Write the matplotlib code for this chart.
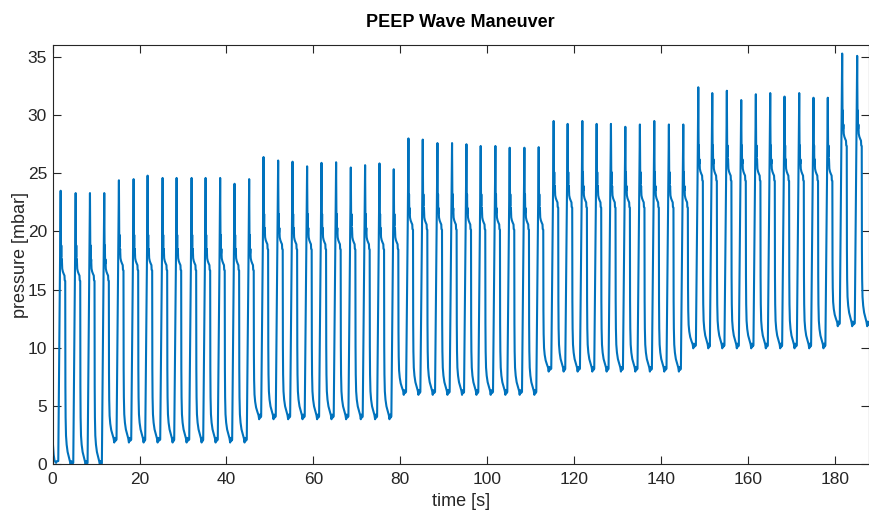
import numpy as np
import matplotlib.pyplot as plt

plt.rcParams['font.family'] = ['Liberation Sans', 'DejaVu Sans']

# peak time of every breath [s]
peak_time = [1.86, 5.31, 8.60, 11.89,
             15.26, 18.64, 21.86, 25.31, 28.53, 31.98, 35.20, 38.55, 41.86, 45.22,
             48.53, 51.89, 55.20, 58.55, 61.86, 65.22, 68.60, 71.89, 75.20, 78.48,
             81.86, 85.15, 88.53, 91.89, 95.20, 98.48, 101.86, 105.15, 108.53, 111.82,
             115.26, 118.48, 121.86, 125.15, 128.44, 131.75, 135.10, 138.41, 141.77, 145.08,
             148.53, 151.75, 155.10, 158.41, 161.77, 165.08, 168.37, 171.75, 175.03, 178.32,
             181.63, 185.08]
# peak pressure of every breath [mbar]
peak_p = [23.5, 23.3, 23.3, 23.3,
          24.4, 24.5, 24.8, 24.6, 24.6, 24.6, 24.6, 24.6, 24.1, 24.5,
          26.4, 26.1, 26.0, 25.6, 25.9, 25.95, 25.5, 25.7, 25.85, 25.35,
          28.0, 27.9, 27.6, 27.6, 27.5, 27.35, 27.35, 27.2, 27.2, 27.25,
          29.5, 29.25, 29.5, 29.25, 29.25, 29.0, 29.2, 29.5, 29.2, 29.2,
          32.4, 31.9, 32.1, 31.3, 31.8, 31.9, 31.6, 31.9, 31.5, 31.5,
          35.3, 35.1]

# PEEP steps: breaths per step, plateau and end-expiratory level
step_breaths = [4, 10, 10, 10, 10, 10, 2]
step_plateau = [16.2, 17.1, 18.9, 20.6, 22.5, 24.8, 27.8]
step_peep = [0.1, 2.1, 4.1, 6.2, 8.2, 10.2, 12.1]

# start of the recording (tail of a previous breath)
start_t = [0.0, 0.1, 0.25, 0.45, 0.8, 1.0]
start_p = [2.4, 1.6, 0.8, 0.3, 0.1, 0.25]

# shape of one breath, times relative to the peak [s]
insp_dt = [-0.55, -0.15, 0.0, 0.05, 0.09, 0.14, 0.2, 0.28, 0.36, 0.5, 0.7, 0.88, 0.93, 1.05]
insp_rel = [None, 0.5, None, 3.3, 1.6, 2.6, 1.0, 1.4, 0.6, 0.35, 0.15, 0.0, -0.4, -0.45]
exp_dt = [1.09, 1.14, 1.23, 1.38, 1.6, 1.9, 2.15, 2.3, 2.45, 2.6]
exp_frac = [0.42, 0.25, 0.15, 0.1, 0.06, 0.03, 0.0, 0.0, 0.0, 0.0]
exp_noise = [0, 0, 0, 0, 0, 0, 0.1, -0.25, 0.15, -0.1]

plateau = np.repeat(step_plateau, step_breaths)
# PEEP changes with the expiration of the last breath of each step
peep_after = list(np.repeat(step_peep, step_breaths))
for i in np.cumsum(step_breaths)[:-1] - 1:
    peep_after[i] = peep_after[i + 1]

t_all = list(start_t)
p_all = list(start_p)
prev = start_p[-1]
for tp, pk, lv, pe in zip(peak_time, peak_p, plateau, peep_after):
    for dt, rel in zip(insp_dt, insp_rel):
        t_all.append(tp + dt)
        if dt < -0.3:
            p_all.append(prev)
        elif dt == 0.0:
            p_all.append(pk)
        else:
            p_all.append(lv + rel)
    lend = lv + insp_rel[-1]
    for dt, fr, nz in zip(exp_dt, exp_frac, exp_noise):
        t_all.append(tp + dt)
        p_all.append(pe + fr * (lend - pe) + nz)
    prev = pe

fig = plt.figure(figsize=(8.69, 5.13), dpi=100)
ax = fig.add_axes([0.0605, 0.0955, 0.9395, 0.816])
ax.plot(t_all, p_all, color='#0072BD', linewidth=1.5)

ax.set_xlim(0, 187.8)
ax.set_ylim(0, 36)
ax.set_xticks(np.arange(0, 181, 20))
ax.set_yticks(np.arange(0, 36, 5))
ax.tick_params(direction='in', length=6, width=0.8, top=True, right=True,
               labelsize=12.5, colors='#262626')
ax.tick_params(axis='x', pad=6)
ax.tick_params(axis='y', pad=4)
for s in ax.spines.values():
    s.set_linewidth(0.8)
    s.set_color('#262626')

ax.set_xlabel('time [s]', fontsize=13, color='#262626', labelpad=4)
ax.set_ylabel('pressure [mbar]', fontsize=13, color='#262626', labelpad=-1)
ax.set_title('PEEP Wave Maneuver', fontsize=13, fontweight='bold', pad=13)

fig.savefig('out.png', dpi=100)
